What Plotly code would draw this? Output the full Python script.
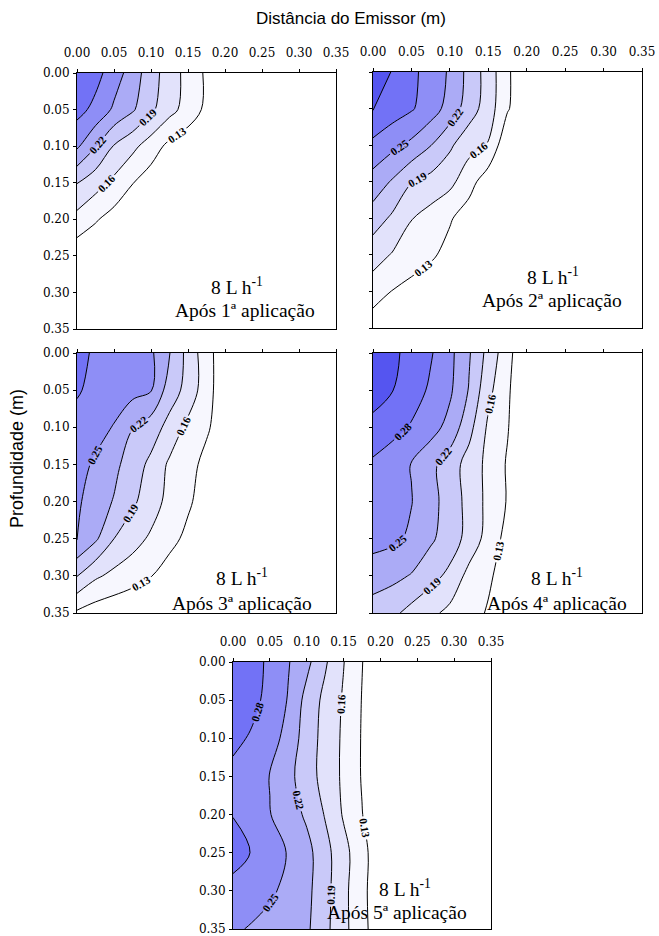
import plotly.graph_objects as go

# ---------------- data ----------------
dist_m = [0.0, 0.025, 0.05, 0.075, 0.10, 0.125, 0.15, 0.175, 0.20, 0.25, 0.30, 0.35]
depth_m = [0.0, 0.05, 0.10, 0.15, 0.20, 0.25, 0.30, 0.35]

theta_app1 = [
    [0.305, 0.290, 0.265, 0.236, 0.203, 0.175, 0.150, 0.125, 0.110, 0.100, 0.100, 0.100],
    [0.290, 0.272, 0.245, 0.224, 0.196, 0.170, 0.148, 0.123, 0.110, 0.100, 0.100, 0.100],
    [0.255, 0.222, 0.188, 0.168, 0.145, 0.122, 0.110, 0.100, 0.100, 0.100, 0.100, 0.100],
    [0.191, 0.172, 0.153, 0.131, 0.115, 0.105, 0.100, 0.100, 0.100, 0.100, 0.100, 0.100],
    [0.150, 0.133, 0.118, 0.110, 0.105, 0.100, 0.100, 0.100, 0.100, 0.100, 0.100, 0.100],
    [0.110, 0.105, 0.100, 0.100, 0.100, 0.100, 0.100, 0.100, 0.100, 0.100, 0.100, 0.100],
    [0.100, 0.100, 0.100, 0.100, 0.100, 0.100, 0.100, 0.100, 0.100, 0.100, 0.100, 0.100],
    [0.100, 0.100, 0.100, 0.100, 0.100, 0.100, 0.100, 0.100, 0.100, 0.100, 0.100, 0.100],
]
theta_app2 = [
    [0.335, 0.308, 0.287, 0.268, 0.246, 0.210, 0.177, 0.135, 0.104, 0.100, 0.100, 0.100],
    [0.312, 0.295, 0.283, 0.265, 0.238, 0.205, 0.175, 0.133, 0.105, 0.100, 0.100, 0.100],
    [0.272, 0.258, 0.243, 0.221, 0.195, 0.170, 0.158, 0.104, 0.100, 0.100, 0.100, 0.100],
    [0.238, 0.217, 0.191, 0.180, 0.168, 0.142, 0.112, 0.100, 0.100, 0.100, 0.100, 0.100],
    [0.205, 0.185, 0.161, 0.148, 0.133, 0.115, 0.100, 0.100, 0.100, 0.100, 0.100, 0.100],
    [0.172, 0.158, 0.148, 0.135, 0.120, 0.105, 0.100, 0.100, 0.100, 0.100, 0.100, 0.100],
    [0.145, 0.129, 0.118, 0.110, 0.100, 0.100, 0.100, 0.100, 0.100, 0.100, 0.100, 0.100],
    [0.112, 0.105, 0.100, 0.100, 0.100, 0.100, 0.100, 0.100, 0.100, 0.100, 0.100, 0.100],
]
theta_app3 = [
    [0.290, 0.275, 0.270, 0.265, 0.255, 0.221, 0.180, 0.142, 0.110, 0.100, 0.100, 0.100],
    [0.283, 0.272, 0.266, 0.260, 0.252, 0.205, 0.180, 0.142, 0.110, 0.100, 0.100, 0.100],
    [0.270, 0.262, 0.248, 0.221, 0.205, 0.180, 0.152, 0.135, 0.110, 0.100, 0.100, 0.100],
    [0.262, 0.245, 0.228, 0.205, 0.183, 0.155, 0.142, 0.120, 0.100, 0.100, 0.100, 0.100],
    [0.255, 0.235, 0.218, 0.195, 0.175, 0.150, 0.135, 0.115, 0.100, 0.100, 0.100, 0.100],
    [0.252, 0.225, 0.190, 0.172, 0.155, 0.140, 0.122, 0.105, 0.100, 0.100, 0.100, 0.100],
    [0.191, 0.165, 0.152, 0.142, 0.131, 0.115, 0.105, 0.100, 0.100, 0.100, 0.100, 0.100],
    [0.125, 0.115, 0.110, 0.105, 0.100, 0.100, 0.100, 0.100, 0.100, 0.100, 0.100, 0.100],
]
theta_app4 = [
    [0.340, 0.318, 0.298, 0.283, 0.258, 0.223, 0.180, 0.141, 0.100, 0.100, 0.100, 0.100],
    [0.325, 0.311, 0.295, 0.275, 0.255, 0.218, 0.168, 0.135, 0.100, 0.100, 0.100, 0.100],
    [0.300, 0.291, 0.277, 0.262, 0.240, 0.200, 0.155, 0.132, 0.100, 0.100, 0.100, 0.100],
    [0.275, 0.262, 0.249, 0.228, 0.205, 0.178, 0.152, 0.127, 0.100, 0.100, 0.100, 0.100],
    [0.270, 0.260, 0.251, 0.230, 0.207, 0.180, 0.152, 0.128, 0.100, 0.100, 0.100, 0.100],
    [0.262, 0.256, 0.245, 0.225, 0.205, 0.180, 0.148, 0.120, 0.100, 0.100, 0.100, 0.100],
    [0.232, 0.228, 0.218, 0.200, 0.183, 0.150, 0.135, 0.115, 0.100, 0.100, 0.100, 0.100],
    [0.208, 0.197, 0.180, 0.167, 0.152, 0.142, 0.127, 0.110, 0.100, 0.100, 0.100, 0.100],
]
theta_app5 = [
    [0.300, 0.290, 0.275, 0.252, 0.228, 0.194, 0.161, 0.131, 0.105, 0.100, 0.100, 0.100],
    [0.298, 0.288, 0.272, 0.248, 0.210, 0.182, 0.157, 0.129, 0.105, 0.100, 0.100, 0.100],
    [0.287, 0.277, 0.262, 0.240, 0.205, 0.180, 0.155, 0.128, 0.105, 0.100, 0.100, 0.100],
    [0.272, 0.265, 0.249, 0.228, 0.205, 0.178, 0.155, 0.128, 0.105, 0.100, 0.100, 0.100],
    [0.279, 0.270, 0.251, 0.235, 0.215, 0.188, 0.157, 0.131, 0.105, 0.100, 0.100, 0.100],
    [0.292, 0.279, 0.265, 0.248, 0.230, 0.200, 0.170, 0.140, 0.110, 0.100, 0.100, 0.100],
    [0.270, 0.266, 0.255, 0.242, 0.228, 0.200, 0.168, 0.138, 0.110, 0.100, 0.100, 0.100],
    [0.255, 0.247, 0.240, 0.232, 0.225, 0.198, 0.168, 0.140, 0.110, 0.100, 0.100, 0.100],
]

tick_vals = [0.0, 0.05, 0.10, 0.15, 0.20, 0.25, 0.30, 0.35]
tick_text = ["0.00", "0.05", "0.10", "0.15", "0.20", "0.25", "0.30", "0.35"]

flow_label = "8 L h<sup>-1</sup>"
panel_labels = ["Após 1ª aplicação", "Após 2ª aplicação", "Após 3ª aplicação",
                "Após 4ª aplicação", "Após 5ª aplicação"]

# band colours: <0.13, 0.13-0.16, ..., >0.31
band_colors = ["#ffffff", "#f7f7fe", "#e2e2fb", "#c9c9f9", "#ababf6",
               "#8e8ef6", "#7272f6", "#5555f0"]

# ---------------- figure ----------------
W, H = 659, 936
def px_x(p):
    return p / W
def px_y(p):
    return 1 - p / H

panels = [
    # (data, x-domain px, y-domain px, show x labels, show y labels, text positions px)
    (theta_app1, (77, 336), (73, 329), True, True, (237, 286, 245, 311)),
    (theta_app2, (373, 642), (72, 328), True, False, (553, 276, 552, 300)),
    (theta_app3, (77, 336), (353, 613), False, True, (242, 577, 242, 603)),
    (theta_app4, (373, 642), (353, 613), False, False, (557, 577, 557, 603)),
    (theta_app5, (233, 491), (662, 929), True, True, (405, 888, 397, 912)),
]

n_bands = len(band_colors)
colorscale = [[k / (n_bands - 1), c] for k, c in enumerate(band_colors)]

fig = go.Figure()
layout = dict(width=W, height=H,
              margin=dict(l=0, r=0, t=0, b=0, pad=0, autoexpand=False),
              paper_bgcolor="white", plot_bgcolor="white", showlegend=False)
annotations = []
tickfont = dict(family="DejaVu Serif", size=12, color="black")
text_font = dict(family="Liberation Serif", size=19.5, color="black")

for i, (z, xd, yd, sx, sy, tpos) in enumerate(panels, start=1):
    sfx = "" if i == 1 else str(i)
    fig.add_trace(go.Contour(
        x=dist_m, y=depth_m, z=z,
        xaxis="x" + sfx, yaxis="y" + sfx,
        autocontour=False,
        contours=dict(start=0.13, end=0.31, size=0.03, coloring="fill",
                      showlabels=True, labelformat=".2f",
                      labelfont=dict(family="Liberation Serif", size=11, color="black",
                                     weight="bold")),
        colorscale=colorscale, showscale=False,
        line=dict(color="black", width=1, smoothing=1.0),
        hoverinfo="skip",
    ))
    layout["xaxis" + sfx] = dict(
        domain=[px_x(xd[0]), px_x(xd[1])], anchor="y" + sfx, side="top",
        range=[0, 0.35], tickvals=tick_vals, ticktext=tick_text,
        showticklabels=sx, ticks="outside", ticklen=3, tickcolor="black",
        showline=True, linecolor="black", linewidth=1, mirror=True,
        showgrid=False, zeroline=False, tickfont=tickfont, ticklabelstandoff=7,
        automargin=False, ticklabeloverflow="allow", fixedrange=True)
    layout["yaxis" + sfx] = dict(
        domain=[px_y(yd[1]), px_y(yd[0])], anchor="x" + sfx,
        range=[0.35, 0], tickvals=tick_vals, ticktext=tick_text,
        showticklabels=sy, ticks="outside", ticklen=3, tickcolor="black",
        showline=True, linecolor="black", linewidth=1, mirror=True,
        showgrid=False, zeroline=False, tickfont=tickfont, ticklabelstandoff=1,
        automargin=False, ticklabeloverflow="allow", fixedrange=True)
    annotations.append(dict(text=flow_label, x=px_x(tpos[0]), y=px_y(tpos[1]),
                            xref="paper", yref="paper", showarrow=False,
                            xanchor="center", yanchor="middle", font=text_font))
    annotations.append(dict(text=panel_labels[i - 1], x=px_x(tpos[2]), y=px_y(tpos[3]),
                            xref="paper", yref="paper", showarrow=False,
                            xanchor="center", yanchor="middle", font=text_font))

annotations.append(dict(text="Distância do Emissor (m)", x=px_x(351), y=px_y(18),
                        xref="paper", yref="paper", showarrow=False,
                        xanchor="center", yanchor="middle",
                        font=dict(family="Liberation Sans", size=17, color="black")))
annotations.append(dict(text="Profundidade (m)", x=px_x(17), y=px_y(459),
                        xref="paper", yref="paper", showarrow=False, textangle=-90,
                        xanchor="center", yanchor="middle",
                        font=dict(family="Liberation Sans", size=18, color="black")))
layout["annotations"] = annotations
fig.update_layout(**layout)

fig.write_html("out.html",
               config={"displayModeBar": False, "staticPlot": True},
               post_script="document.body.style.margin='0';document.body.style.overflow='hidden';")
